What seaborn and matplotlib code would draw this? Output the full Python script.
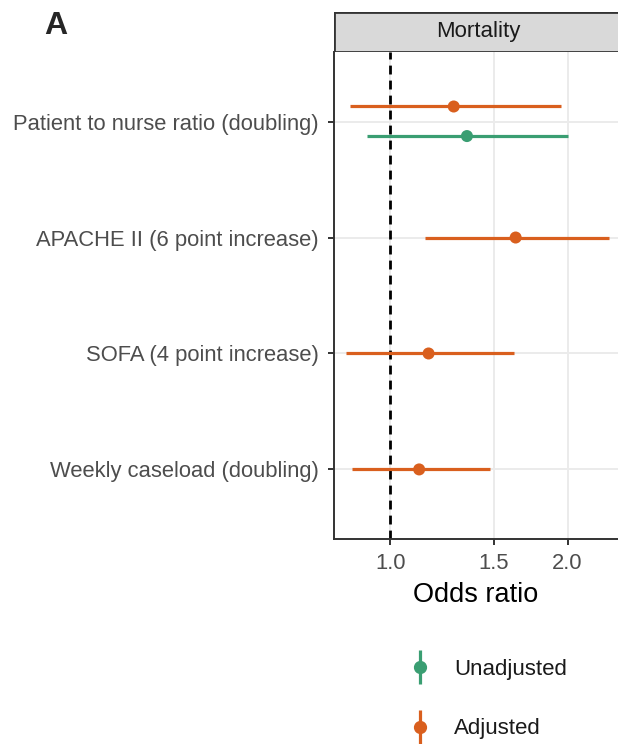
import matplotlib
matplotlib.use("Agg")
import matplotlib.pyplot as plt
import seaborn as sns
import pandas as pd
import numpy as np
from matplotlib.lines import Line2D
from matplotlib.patches import Rectangle

# odds ratios (log x axis)
variables = ["Patient to nurse ratio (doubling)", "APACHE II (6 point increase)",
             "SOFA (4 point increase)", "Weekly caseload (doubling)"]
models = ["Unadjusted", "Adjusted"]

unadj_var = ["Patient to nurse ratio (doubling)"]
unadj_or = [1.35]
unadj_lo = [0.913]
unadj_hi = [2.00]

adj_var = variables
adj_or = [1.282, 1.633, 1.162, 1.120]
adj_lo = [0.855, 1.144, 0.840, 0.862]
adj_hi = [1.948, 2.355, 1.622, 1.475]

x_ticks = [1.0, 1.5, 2.0]
x_tick_labels = ["1.0", "1.5", "2.0"]

colors = {"Unadjusted": "#3a9e72", "Adjusted": "#d95f1e"}

df = pd.concat([
    pd.DataFrame({"variable": unadj_var, "OR": unadj_or, "lo": unadj_lo, "hi": unadj_hi, "model": "Unadjusted"}),
    pd.DataFrame({"variable": adj_var, "OR": adj_or, "lo": adj_lo, "hi": adj_hi, "model": "Adjusted"}),
], ignore_index=True)

# dodge rows that carry both models
df["row"] = df["variable"].map({v: i for i, v in enumerate(variables)})
counts = df.groupby("variable")["model"].transform("count")
df["y"] = df["row"] + np.where(counts > 1, np.where(df["model"] == "Adjusted", -0.13, 0.125), 0.0)

sns.set_theme(style="white")
plt.rcParams["font.family"] = ["Liberation Sans", "DejaVu Sans"]

fig = plt.figure(figsize=(6.18, 7.44), dpi=100)
ax = fig.add_axes([334 / 618, 1 - 539 / 744, 1 - 334 / 618, (539 - 52) / 744])

ax.set_xscale("log")
ax.set_xlim(0.803, 2.436)
ax.set_ylim(3.6, -0.6)

# grid
for xv in x_ticks:
    ax.axvline(xv, color="#ebebeb", lw=1.4, zorder=0)
for i in range(len(variables)):
    ax.axhline(i, color="#ebebeb", lw=1.4, zorder=0)

ax.axvline(1.0, color="black", lw=2.0, ls=(0, (3.2, 2.2)), zorder=1)

for m in models:
    sub = df[df["model"] == m]
    ax.hlines(sub["y"], sub["lo"], sub["hi"], color=colors[m], lw=2.3, zorder=2)
sns.scatterplot(data=df, x="OR", y="y", hue="model", palette=colors, s=75,
                edgecolor="none", legend=False, ax=ax, zorder=3)

ax.set_xticks(x_ticks)
ax.set_xticklabels(x_tick_labels)
ax.xaxis.set_minor_locator(matplotlib.ticker.NullLocator())
ax.set_yticks(range(len(variables)))
ax.set_yticklabels(variables)
ax.tick_params(axis="both", which="major", length=4.5, width=1.4, color="#333333",
               labelcolor="#4d4d4d", labelsize=15.8, bottom=True, left=True)
ax.tick_params(axis="x", pad=5.5)
ax.tick_params(axis="y", pad=6.3)
ax.set_xlabel("Odds ratio", fontsize=19.5, color="black", labelpad=6)
ax.set_ylabel("")

for side in ["left", "bottom"]:
    ax.spines[side].set_color("#333333")
    ax.spines[side].set_linewidth(1.4)
ax.spines["top"].set_visible(False)
ax.spines["right"].set_visible(False)

# facet strip
strip_ax = fig.add_axes([334 / 618, 1 - 52 / 744, 1.01 - 334 / 618, 40 / 744])
strip_ax.set_xlim(0, 1)
strip_ax.set_ylim(0, 1)
strip_ax.add_patch(Rectangle((0, 0), 1, 1, facecolor="#d9d9d9", edgecolor="#333333", lw=2.0))
strip_ax.text((478 - 334) / (618 * 1.01 - 334), 0.5, "Mortality", ha="center", va="center",
              fontsize=16, color="#1a1a1a")
strip_ax.axis("off")

fig.text(44 / 618, 1 - 26 / 744, "A", fontsize=23, fontweight="bold", va="center", ha="left")

# legend
handles = []
for m in models:
    vline = Line2D([], [], marker="|", markersize=25, mew=2.3, linestyle="none", color=colors[m])
    dot = Line2D([], [], marker="o", markersize=8.5, linestyle="none", color=colors[m])
    handles.append((vline, dot))
fig.legend(handles, models, loc="center left", bbox_to_anchor=(382 / 618, 1 - 699 / 744),
           frameon=False, fontsize=16, labelspacing=1.75, handlelength=1.6, handletextpad=0.75,
           labelcolor="#1a1a1a")

fig.savefig("out.png", dpi=100)
